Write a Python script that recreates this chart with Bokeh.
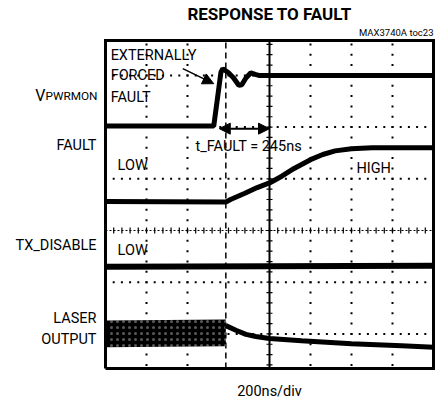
import numpy as np
from bokeh.plotting import figure
from bokeh.models import Range1d, Label, Arrow, NormalHead
from bokeh.embed import file_html
from bokeh.resources import INLINE

# ---- data (time in ns, 200 ns/div; vertical in scope divisions, 0 = centre line)
vpwr_t = [-800, -272, -254, -237, -228, -200, -175, -150, -135, -115, -91, -70, -52, 800]
vpwr_v = [2.02, 2.02, 2.55, 3.06, 3.13, 3.05, 2.95, 2.81, 2.82, 2.95, 3.05, 3.02, 3.00, 3.00]

fault_t = [-800, -213, -190, -120, -60, 0, 60, 120, 200, 260, 320, 400, 500, 800]
fault_v = [0.56, 0.55, 0.60, 0.72, 0.83, 0.92, 1.05, 1.20, 1.37, 1.47, 1.54, 1.58, 1.60, 1.60]

txdis_t = [-800, 800]
txdis_v = [-0.70, -0.68]

laser_band_t = [-800, -213]
laser_band_hi = [-1.74, -1.72]
laser_band_lo = [-2.26, -2.24]
laser_t = [-213, -164, -115, -67, 0, 156, 400, 645, 800]
laser_v = [-1.84, -1.93, -2.01, -2.05, -2.09, -2.13, -2.19, -2.23, -2.26]

cursor_t = -213
tfault_start, tfault_end, tfault_y = -245, 0, 1.97

grid_x = [-600, -400, 200, 400, 600]
grid_y = [-2, -1, 1, 2, 3]

# screen box of the graticule: x 105..433 px, y 40..368 px, canvas 435x404
X0, X1 = -800, 800
Y0, Y1 = -2.669, 3.675
W, H = 435, 404
BX0, BX1, BY0, BY1 = 105, 433, 40, 368
sx = (X1 - X0) / (BX1 - BX0)
sy = (Y1 - Y0) / (BY1 - BY0)
FONT = "Roboto"

p = figure(width=W, height=H,
           x_range=Range1d(X0 - BX0 * sx, X1 + (W - BX1) * sx),
           y_range=Range1d(Y0 - (H - BY1) * sy, Y1 + BY0 * sy),
           x_axis_type=None, y_axis_type=None, output_backend="svg",
           toolbar_location=None, min_border=0)
p.outline_line_color = None
p.background_fill_color = "white"
p.border_fill_color = "white"

# ---- graticule dots
minor_y = np.round(np.arange(-13, 19) * 0.2, 3)
minor_x = np.arange(X0, X1 + 1, 40)
vx = [gx for gx in grid_x for _ in minor_y]
vy = [gy for _ in grid_x for gy in minor_y]
hx = [gx for _ in grid_y for gx in minor_x]
hy = [gy for gy in grid_y for _ in minor_x]
p.scatter(vx + hx, vy + hy, marker="square", size=2, color="black", line_width=0)

# centre cross with ticks
p.line([0, 0], [Y0, Y1], line_color="black", line_width=2)
p.line([X0, X1], [0, 0], line_color="black", line_width=1, line_dash="2 2")
p.scatter(minor_x, [0] * len(minor_x), marker="dash", angle=np.pi / 2, size=6,
          line_color="black", line_width=1.2)
p.scatter([0] * len(minor_y), minor_y, marker="dash", size=6, line_color="black", line_width=1.2)

# cursor
p.line([cursor_t, cursor_t], [Y0, Y1], line_color="black", line_width=1.5, line_dash="6 4")

# ---- traces
p.varea(x=laser_band_t, y1=laser_band_lo, y2=laser_band_hi, fill_color="black",
        fill_alpha=1.0, hatch_pattern=".", hatch_color="white", hatch_scale=6,
        hatch_weight=1, hatch_alpha=0.35)
p.line(laser_t, laser_v, line_color="black", line_width=5)
p.line(vpwr_t, vpwr_v, line_color="black", line_width=5)
p.line(fault_t, fault_v, line_color="black", line_width=5)
p.line(txdis_t, txdis_v, line_color="black", line_width=6)

# ---- frame
p.line([X0, X1, X1, X0, X0], [Y0, Y0, Y1, Y1, Y0], line_color="black", line_width=3,
       line_join="miter")

# ---- arrows
p.add_layout(Arrow(x_start=tfault_start, y_start=tfault_y, x_end=tfault_end, y_end=tfault_y,
                   line_color="black", line_width=2,
                   start=NormalHead(size=11, fill_color="black", line_color="black"),
                   end=NormalHead(size=11, fill_color="black", line_color="black")))
p.add_layout(Arrow(x_start=-423, y_start=3.13, x_end=-272, y_end=2.84,
                   line_color="black", line_width=1.5,
                   end=NormalHead(size=11, fill_color="black", line_color="black")))

# ---- texts
def lab(x, y, t, size="14.5px", align="left", baseline="middle", style="normal"):
    p.add_layout(Label(x=x, y=y, text=t, text_font=FONT, text_font_size=size,
                       text_align=align, text_baseline=baseline, text_color="black",
                       text_font_style=style))

lab(-775, 3.385, "EXTERNALLY")
lab(-775, 3.0, "FORCED")
lab(-775, 2.57, "FAULT")
lab(-741, 1.26, "LOW")
lab(424, 1.20, "HIGH")
lab(-361, 1.62, "t_FAULT = 245ns")
lab(-741, -0.39, "LOW")

lab(-839, 2.61, "PWRMON", size="11.8px", align="right", baseline="alphabetic")
lab(-1093, 2.61, "V", size="16px", align="right", baseline="alphabetic")
lab(-844, 1.64, "FAULT", align="right")
lab(-844, -0.29, "TX_DISABLE", align="right")
lab(-844, -1.70, "LASER", align="right")
lab(-844, -2.11, "OUTPUT", align="right")

lab(0, 4.19, "RESPONSE TO FAULT", size="17px", align="center", style="bold")
lab(800, 3.83, "MAX3740A toc23", size="9.5px", align="right")
lab(0, -3.11, "200ns/div", size="14.5px", align="center")

open("out.html", "w").write(file_html(p, INLINE))
